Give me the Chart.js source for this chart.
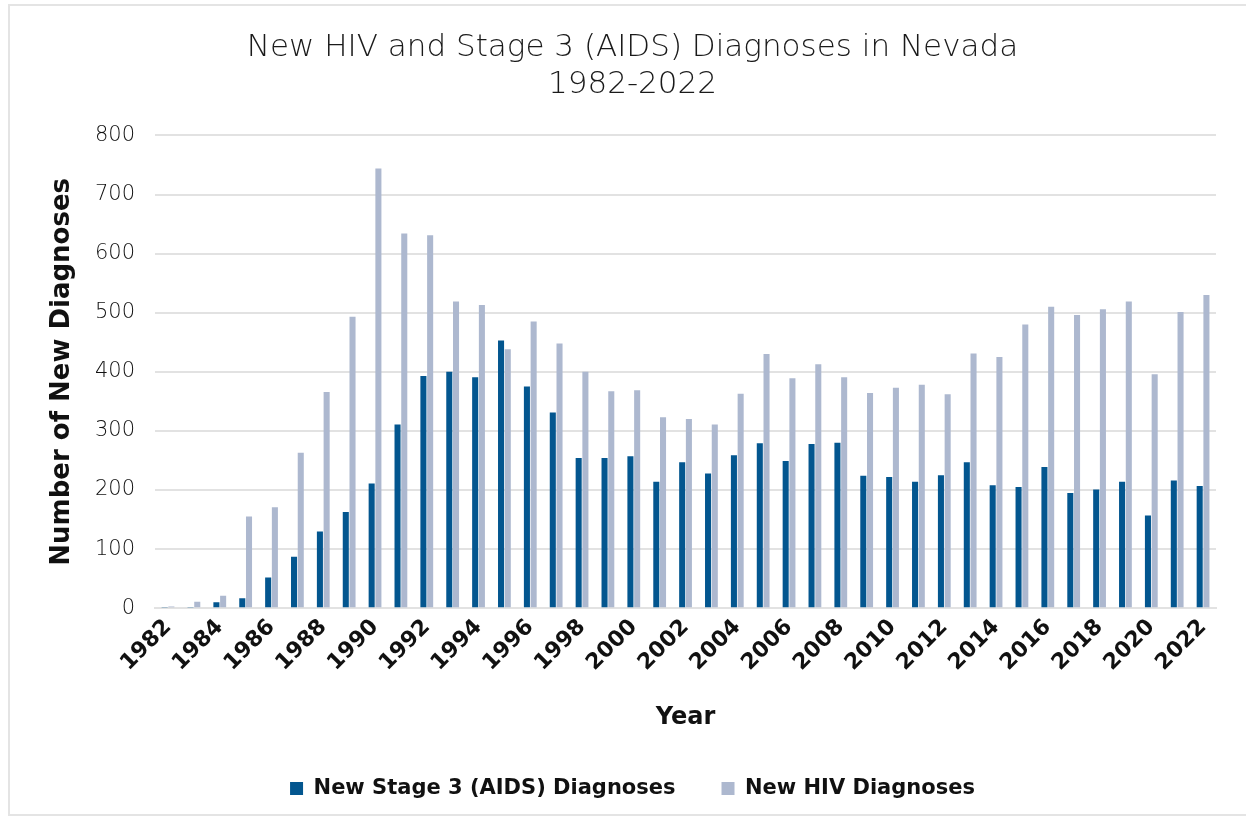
<!DOCTYPE html>
<html>
<head>
<meta charset="utf-8">
<script src="https://cdn.jsdelivr.net/npm/chart.js@4"></script>
<style>
  body { margin: 0; background: #fff; }
  #frame { position: absolute; left: 8px; top: 4px; width: 1250px; height: 812px; border: 2px solid #e4e4e4; box-sizing: border-box; }
  #wrap { position: absolute; left: 0; top: 0; width: 1246px; height: 822px; }
</style>
</head>
<body>
<div id="frame"></div>
<div id="wrap"><canvas id="hivChart"></canvas></div>
<script>
const years = [];
for (let y = 1982; y <= 2022; y++) years.push(String(y));

const stage3 = [2, 2, 10, 17, 52, 87, 130, 163, 211, 311, 393, 400, 391, 453, 375, 331, 254, 254, 257, 214,
  247, 228, 259, 279, 249, 278, 280, 224, 222, 214, 225, 247, 208, 205, 239, 195, 201, 214, 157, 216, 207];
const hiv = [3, 11, 21, 155, 171, 263, 366, 493, 744, 634, 631, 519, 513, 438, 485, 448, 400, 367, 369, 323,
  320, 311, 363, 430, 389, 413, 391, 364, 373, 378, 362, 431, 425, 480, 510, 496, 506, 519, 396, 501, 530];

const fontFamily = "'DejaVu Sans', sans-serif";

new Chart(document.getElementById("hivChart"), {
  type: "bar",
  data: {
    labels: years,
    datasets: [
      { label: "New Stage 3 (AIDS) Diagnoses", data: stage3, backgroundColor: "#03568f",
        categoryPercentage: 0.52, barPercentage: 0.9 },
      { label: "New HIV Diagnoses", data: hiv, backgroundColor: "#adb8cf",
        categoryPercentage: 0.52, barPercentage: 0.9 }
    ]
  },
  options: {
    responsive: true,
    maintainAspectRatio: false,
    animation: false,
    layout: { padding: { left: 49, right: 30, top: 29, bottom: 13 } },
    plugins: {
      title: {
        display: true,
        text: ["New HIV and Stage 3 (AIDS) Diagnoses in Nevada", "1982-2022"],
        color: "#1a1a1a",
        font: { family: fontFamily, size: 31, weight: "200", lineHeight: 1.2 },
        padding: { top: 0, bottom: 32 }
      },
      legend: {
        position: "bottom",
        labels: {
          color: "#111",
          boxWidth: 13, boxHeight: 13,
          padding: 46,
          font: { family: fontFamily, size: 21, weight: "bold" }
        }
      },
      tooltip: { enabled: false }
    },
    scales: {
      x: {
        grid: { display: false, drawTicks: false },
        border: { color: "#e2e2e2", width: 2 },
        ticks: {
          color: "#111",
          minRotation: 45, maxRotation: 45,
          autoSkip: false,
          padding: 6,
          font: { family: fontFamily, size: 22, weight: "bold" },
          callback: function (val, i) { return i % 2 === 0 ? years[i] : ""; }
        },
        title: {
          display: true, text: "Year", color: "#111",
          font: { family: fontFamily, size: 24, weight: "bold" },
          padding: { top: 21, bottom: 0 }
        }
      },
      y: {
        min: 0, max: 800,
        grid: { color: "#e2e2e2", lineWidth: 2, drawTicks: false },
        border: { display: false },
        ticks: {
          stepSize: 100, color: "#111", padding: 20,
          font: { family: fontFamily, size: 21, weight: "200" }
        },
        title: {
          display: true, text: "Number of New Diagnoses", color: "#111",
          font: { family: fontFamily, size: 26, weight: "bold", lineHeight: 1 },
          padding: { top: 0, bottom: 0 }
        }
      }
    }
  }
});
</script>
</body>
</html>
